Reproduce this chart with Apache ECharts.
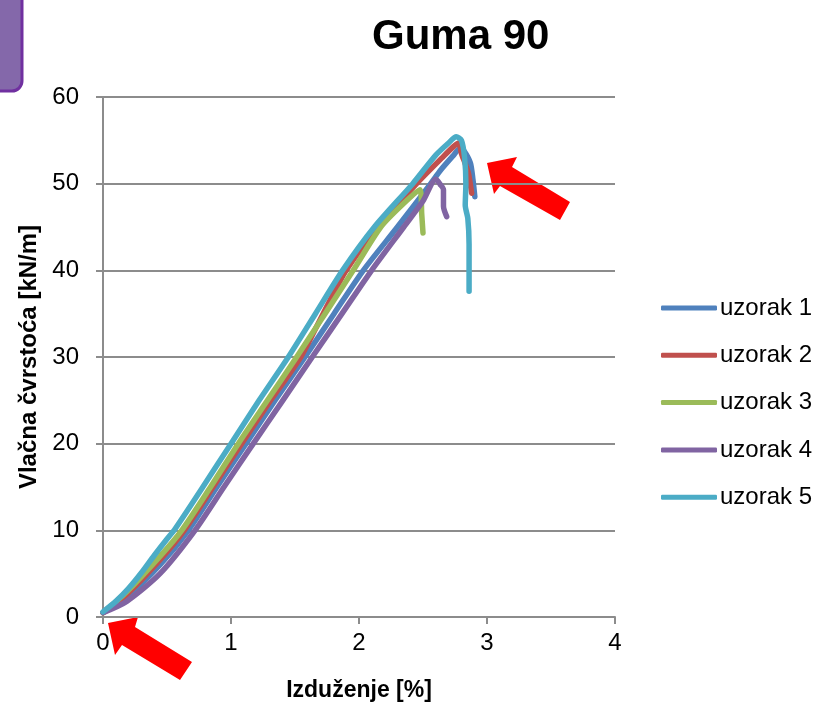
<!DOCTYPE html>
<html>
<head>
<meta charset="utf-8">
<script src="https://cdn.jsdelivr.net/npm/echarts@6/dist/echarts.min.js"></script>
<style>html,body{margin:0;padding:0;background:#fff}#c{width:817px;height:705px}</style>
</head>
<body>
<div id="c"></div>
<script>
const seriesNames = ['uzorak 1', 'uzorak 2', 'uzorak 3', 'uzorak 4', 'uzorak 5'];
const xTicks = [0, 1, 2, 3, 4];
const yTicks = [0, 10, 20, 30, 40, 50, 60];

const s1x = [0, 0.185, 0.445, 0.667, 0.89, 1.117, 1.345, 1.578, 1.805, 2.034, 2.3, 2.56, 2.64, 2.74, 2.79, 2.82, 2.87, 2.89, 2.905];
const s1y = [0.5, 2.3, 6.0, 10, 15, 20, 25, 30, 35, 40, 45, 50, 51.6, 53.3, 54.1, 53.8, 52.4, 50.5, 48.5];

const s2x = [0, 0.185, 0.445, 0.635, 0.86, 1.083, 1.31, 1.545, 1.72, 1.90, 2.15, 2.45, 2.65, 2.74, 2.78, 2.80, 2.83, 2.855, 2.88];
const s2y = [0.5, 2.6, 6.6, 10, 15, 20, 25, 30, 35, 40, 45, 50, 53, 54.3, 54.7, 53.5, 52.3, 51.2, 48.9];

const s3x = [0, 0.185, 0.445, 0.615, 0.84, 1.057, 1.285, 1.513, 1.735, 1.955, 2.17, 2.34, 2.477, 2.49, 2.50];
const s3y = [0.5, 2.9, 7.0, 10, 15, 20, 25, 30, 35, 40, 45, 47.6, 49.3, 46.5, 44.3];

const s4x = [0, 0.185, 0.445, 0.719, 0.945, 1.174, 1.405, 1.635, 1.867, 2.099, 2.35, 2.5, 2.6, 2.635, 2.66, 2.66, 2.685];
const s4y = [0.5, 1.8, 5.0, 10, 15, 20, 25, 30, 35, 40, 45, 48, 50.5, 49.9, 49.3, 47.4, 46.2];

const s5x = [0, 0.1, 0.2, 0.3, 0.4, 0.5, 0.56, 0.78, 1.0, 1.22, 1.448, 1.66, 1.872, 2.12, 2.42, 2.6, 2.7, 2.76, 2.80, 2.825, 2.835, 2.83, 2.85, 2.86, 2.86];
const s5y = [0.6, 1.8, 3.3, 5.1, 7.1, 9.0, 10.1, 15, 20, 25, 30, 35, 40, 45, 50, 53.3, 54.7, 55.4, 55.0, 53.0, 50, 47.5, 46, 43, 37.6];

const colors = ['#4F81BD', '#C0504D', '#9BBB59', '#8064A2', '#4BACC6'];
const xs = [s1x, s2x, s3x, s4x, s5x];
const ys = [s1y, s2y, s3y, s4y, s5y];
const FONT = '"Liberation Sans", Arial, sans-serif';

const chart = echarts.init(document.getElementById('c'), null, {renderer: 'canvas'});
chart.setOption({
  animation: false,
  color: colors,
  title: {
    text: 'Guma 90', left: 367, top: 11,
    textStyle: {fontFamily: FONT, fontSize: 42, fontWeight: 'bold', color: '#000'}
  },
  grid: {left: 103, right: 202, top: 97, bottom: 88, outerBoundsMode: 'none', containLabel: false},
  legend: {
    orient: 'vertical', left: 661, top: 296, padding: 0, itemWidth: 56, itemHeight: 5, itemGap: 23.3,
    icon: 'roundRect',
    textStyle: {fontFamily: FONT, fontSize: 24, color: '#000', padding: [0, 0, 0, -2]},
    data: seriesNames
  },
  xAxis: {
    type: 'value', min: xTicks[0], max: xTicks[xTicks.length - 1], interval: 1,
    name: 'Izduženje [%]', nameLocation: 'middle', nameGap: 62,
    nameTextStyle: {fontFamily: FONT, fontSize: 23, fontWeight: 'bold', color: '#000'},
    axisLine: {show: true, lineStyle: {color: '#8c8c8c', width: 2}},
    axisTick: {show: true, length: 7, lineStyle: {color: '#8c8c8c', width: 2}},
    axisLabel: {fontFamily: FONT, fontSize: 24, color: '#000', margin: 14},
    splitLine: {show: false}
  },
  yAxis: {
    type: 'value', min: yTicks[0], max: yTicks[yTicks.length - 1], interval: 10,
    name: 'Vlačna čvrstoća [kN/m]', nameLocation: 'middle', nameGap: 62, nameRotate: 90,
    nameTextStyle: {fontFamily: FONT, fontSize: 24, fontWeight: 'bold', color: '#000'},
    axisLine: {show: true, lineStyle: {color: '#8c8c8c', width: 2}},
    axisTick: {show: true, length: 7, lineStyle: {color: '#8c8c8c', width: 2}},
    axisLabel: {fontFamily: FONT, fontSize: 24, color: '#000', margin: 24},
    splitLine: {show: true, lineStyle: {color: '#8c8c8c', width: 2}}
  },
  graphic: [
    {type: 'rect', shape: {x: -20, y: -20, width: 42, height: 111, r: 10},
     style: {fill: '#8468AA', stroke: '#7030A0', lineWidth: 3}},
    {type: 'polygon', shape: {points: [[487, 163], [517, 157], [512, 167], [570, 202], [560, 220], [500, 186], [494, 194]]},
     style: {fill: '#FF0000'}},
    {type: 'polygon', shape: {points: [[108, 623], [138, 617], [135, 627], [192, 662], [180, 680], [122, 645], [115, 655]]},
     style: {fill: '#FF0000'}}
  ],
  series: seriesNames.map((n, i) => ({
    name: n, type: 'line', showSymbol: false, smooth: 0.25,
    lineStyle: {width: 5.5, color: colors[i], cap: 'round', join: 'round'},
    itemStyle: {color: colors[i]},
    data: xs[i].map((x, k) => [x, ys[i][k]])
  }))
});
</script>
</body>
</html>
